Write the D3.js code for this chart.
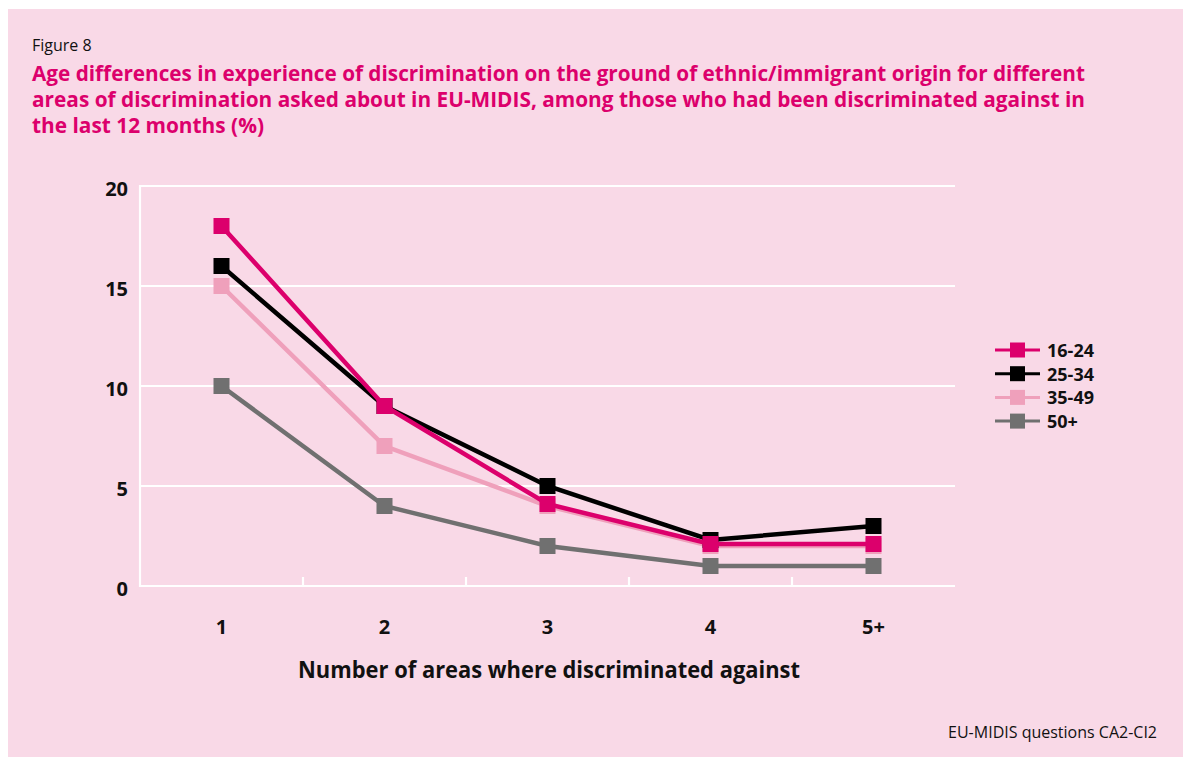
<!DOCTYPE html>
<html><head><meta charset="utf-8">
<script src="https://cdn.jsdelivr.net/npm/d3@7"></script>
<style>
html,body{margin:0;padding:0;background:#fff;}
svg{display:block;}
</style></head>
<body>
<svg id="chart" width="1183" height="757"></svg>
<script>
const categories = ["1", "2", "3", "4", "5+"];
const seriesNames = ["16-24", "25-34", "35-49", "50+"];
const values1624 = [18, 9, 4.1, 2.1, 2.1];
const values2534 = [16, 9, 5, 2.3, 3];
const values3549 = [15, 7, 4, 2, 2];
const values50 = [10, 4, 2, 1, 1];
const yTicks = [0, 5, 10, 15, 20];
const colors = ["#dc006c", "#000000", "#efa0bb", "#707070"];

(function () {
const series = [
  {name: seriesNames[3], values: values50, color: colors[3]},
  {name: seriesNames[2], values: values3549, color: colors[2]},
  {name: seriesNames[1], values: values2534, color: colors[1]},
  {name: seriesNames[0], values: values1624, color: colors[0]}
];

const svg = d3.select("#chart");
const bg = "#f9d9e7";
svg.append("rect").attr("x", 8).attr("y", 9).attr("width", 1183 - 8).attr("height", 757 - 9).attr("fill", bg);

const condensed = "'Liberation Sans Narrow', 'Arial Narrow', 'Open Sans', sans-serif";
const regular = "'Open Sans', 'Liberation Sans', sans-serif";

svg.append("text").attr("x", 32).attr("y", 51).attr("font-family", regular)
  .attr("font-size", 16).attr("fill", "#111").text("Figure 8");

const titleLines = [
  "Age differences in experience of discrimination on the ground of ethnic/immigrant origin for different",
  "areas of discrimination asked about in EU-MIDIS, among those who had been discriminated against in",
  "the last 12 months (%)"
];
const titleWidths = [1053, 1053, 232];
titleLines.forEach((t, i) => {
  svg.append("text").attr("x", 32).attr("y", 81 + i * 26)
    .attr("font-family", condensed).attr("font-weight", "bold").attr("font-size", 21)
    .attr("fill", "#dc006c")
    .attr("textLength", titleWidths[i]).attr("lengthAdjust", "spacingAndGlyphs")
    .text(t);
});

const pLeft = 140, pRight = 955, pTop = 186, pBottom = 586;
const x = d3.scaleBand().domain(categories).range([pLeft, pRight]);
const y = d3.scaleLinear().domain([0, 20]).range([pBottom, pTop]);

const g = svg.append("g");
g.selectAll("line.grid").data(yTicks).enter().append("line")
  .attr("x1", pLeft).attr("x2", pRight).attr("y1", d => y(d)).attr("y2", d => y(d))
  .attr("stroke", "#fff").attr("stroke-width", 2.2);
g.append("line").attr("x1", pLeft).attr("x2", pLeft).attr("y1", pTop - 1).attr("y2", pBottom + 1)
  .attr("stroke", "#fff").attr("stroke-width", 2.2);
const bounds = categories.map(c => x(c) + x.bandwidth()).slice(0, 4);
g.selectAll("line.xt").data(bounds).enter().append("line")
  .attr("x1", d => d).attr("x2", d => d).attr("y1", pBottom - 9).attr("y2", pBottom)
  .attr("stroke", "#fff").attr("stroke-width", 2.2);

g.selectAll("text.yl").data(yTicks).enter().append("text")
  .attr("x", 128).attr("y", d => y(d) + 10)
  .attr("text-anchor", "end").attr("font-family", condensed).attr("font-weight", "bold")
  .attr("font-size", 20).attr("fill", "#111").text(d => d);

g.selectAll("text.xl").data(categories).enter().append("text")
  .attr("x", d => x(d) + x.bandwidth() / 2).attr("y", 634)
  .attr("text-anchor", "middle").attr("font-family", condensed).attr("font-weight", "bold")
  .attr("font-size", 20).attr("fill", "#111").text(d => d);

svg.append("text").attr("x", 549).attr("y", 678).attr("text-anchor", "middle")
  .attr("font-family", condensed).attr("font-weight", "bold").attr("font-size", 23)
  .attr("fill", "#111").attr("textLength", 502).attr("lengthAdjust", "spacingAndGlyphs")
  .text("Number of  areas where discriminated against");

const line = d3.line().x((d, i) => x(categories[i]) + x.bandwidth() / 2).y(d => y(d));
const ms = 16;
series.forEach(s => {
  const sg = g.append("g");
  sg.append("path").datum(s.values).attr("d", line).attr("fill", "none")
    .attr("stroke", s.color).attr("stroke-width", 4.5).attr("stroke-linejoin", "miter");
  sg.selectAll("rect").data(s.values).enter().append("rect")
    .attr("x", (d, i) => x(categories[i]) + x.bandwidth() / 2 - ms / 2)
    .attr("y", d => y(d) - ms / 2).attr("width", ms).attr("height", ms)
    .attr("fill", s.color);
});

const lg = svg.append("g");
seriesNames.forEach((name, i) => {
  const cy = 350 + i * 23.7;
  lg.append("line").attr("x1", 995).attr("x2", 1040).attr("y1", cy).attr("y2", cy)
    .attr("stroke", colors[i]).attr("stroke-width", 3);
  lg.append("rect").attr("x", 1010).attr("y", cy - 7.5).attr("width", 15).attr("height", 15)
    .attr("fill", colors[i]);
  lg.append("text").attr("x", 1047).attr("y", cy + 7).attr("font-family", condensed)
    .attr("font-weight", "bold").attr("font-size", 18).attr("fill", "#111").text(name);
});

svg.append("text").attr("x", 1157).attr("y", 738).attr("text-anchor", "end")
  .attr("font-family", regular).attr("font-size", 16).attr("fill", "#111")
  .text("EU-MIDIS questions CA2-CI2");
})();
</script>
</body></html>
